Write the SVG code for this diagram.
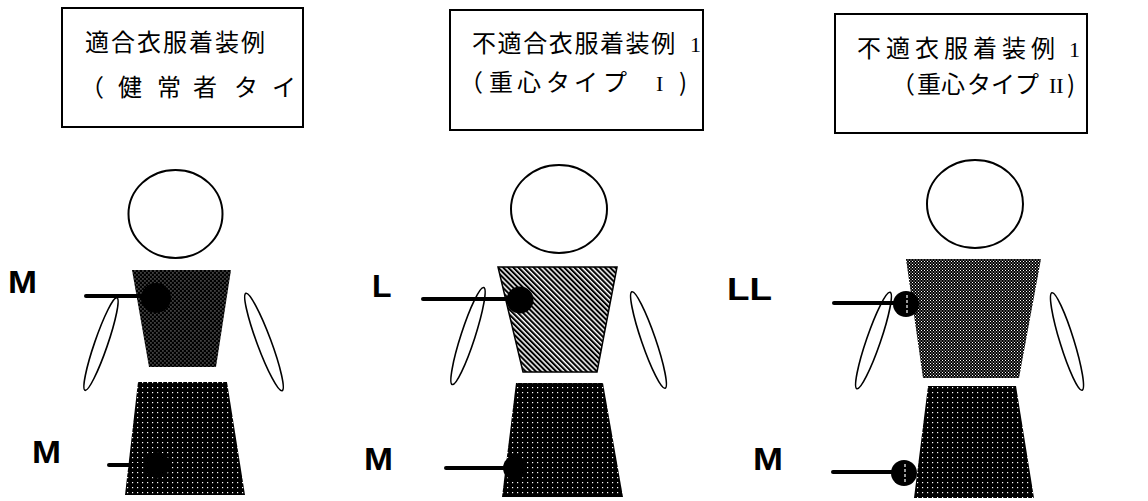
<svg xmlns="http://www.w3.org/2000/svg" width="1148" height="501" viewBox="0 0 1148 501">
  <style>
    .box { fill: #fff; stroke: #000; stroke-width: 2; }
    .jp { font-family: "Noto Sans CJK JP", sans-serif; font-size: 24px; fill: #000; }
    .num { font-family: "Liberation Serif", "Noto Sans CJK JP", serif; font-size: 22px; fill: #000; }
    .size { font-family: "Liberation Sans", Arial, sans-serif; font-size: 32px; font-weight: bold; fill: #000; }
    .head { fill: #fff; stroke: #000; stroke-width: 2; }
    .arm { fill: #fff; stroke: #000; stroke-width: 1.6; }
    .lead { stroke: #000; stroke-width: 4; stroke-linecap: round; fill: none; }
    .mark { fill: #000; }
    .tick { stroke: #fff; stroke-width: 1.2; stroke-dasharray: 3 2; }
  </style>
  <defs>
    <!-- coarse stipple: black with a white dot grid (skirts) -->
    <pattern id="stipple" width="5" height="5" patternUnits="userSpaceOnUse">
      <rect width="5" height="5" fill="#000"/>
      <rect x="2" y="2" width="1.2" height="1.2" fill="#fff"/>
    </pattern>
    <!-- fine stipple: dark, staggered rows -->
    <pattern id="fine" width="4" height="4" patternUnits="userSpaceOnUse">
      <rect width="4" height="4" fill="#000"/>
      <rect x="0.5" y="0.5" width="0.9" height="0.9" fill="#fff"/>
      <rect x="2.5" y="2.5" width="0.9" height="0.9" fill="#fff"/>
    </pattern>
    <!-- diagonal hatch -->
    <pattern id="hatch" width="3.6" height="3.6" patternUnits="userSpaceOnUse" patternTransform="rotate(-45)">
      <rect width="3.6" height="3.6" fill="#fff"/>
      <rect width="2.1" height="3.6" fill="#000"/>
    </pattern>
    <!-- checker screen -->
    <pattern id="checker" width="3" height="3" patternUnits="userSpaceOnUse">
      <rect width="3" height="3" fill="#000"/>
      <rect x="0" y="0" width="1" height="1" fill="#fff"/>
      <rect x="1.5" y="1.5" width="1" height="1" fill="#fff"/>
    </pattern>
  </defs>

  <rect width="1148" height="501" fill="#fff"/>

  <!-- title boxes -->
  <g id="title-fit">
    <rect class="box" x="62" y="8" width="241" height="119"/>
    <text class="jp" x="85" y="51" font-size="25" letter-spacing="2">適合衣服着装例</text>
    <text class="jp" y="96" x="80 118 157 193 234 272">（健常者タイ</text>
  </g>
  <g id="title-misfit-1">
    <rect class="box" x="450" y="10" width="253" height="120"/>
    <text class="jp" x="472" y="52" letter-spacing="1.6">不適合衣服着装例</text>
    <text class="num" x="690" y="52">1</text>
    <text class="jp" y="91"><tspan x="459 489 517 546 574 603">（重心タイプ</tspan><tspan class="num" x="656">I</tspan><tspan x="679">)</tspan></text>
  </g>
  <g id="title-misfit-2">
    <rect class="box" x="835" y="14" width="252" height="119"/>
    <text class="jp" x="857" y="57" letter-spacing="5">不適衣服着装例</text>
    <text class="num" x="1069" y="57">1</text>
    <text class="jp" y="93"><tspan x="891 917 941 967 991 1015">（重心タイプ</tspan><tspan class="num" x="1049">II</tspan><tspan x="1067">)</tspan></text>
  </g>

  <!-- figure 1 -->
  <g id="figure-fit">
    <ellipse class="head" cx="175.5" cy="214" rx="47" ry="44"/>
    <ellipse class="arm" cx="101" cy="344" rx="49" ry="6.5" transform="rotate(109 101 344)"/>
    <ellipse class="arm" cx="264" cy="342" rx="52" ry="7" transform="rotate(69.6 264 342)"/>
    <polygon points="132,270 231,270 216,367 149,367" fill="url(#fine)"/>
    <polygon points="138,382 227,382 245,495 125,495" fill="url(#stipple)"/>
    <circle class="mark" cx="156" cy="298" r="15"/>
    <circle class="mark" cx="157" cy="465" r="13"/>
  </g>

  <!-- figure 2 -->
  <g id="figure-misfit-1">
    <ellipse class="head" cx="559" cy="209" rx="48" ry="44"/>
    <ellipse class="arm" cx="468" cy="336" rx="51" ry="7" transform="rotate(108 468 336)"/>
    <ellipse class="arm" cx="648.5" cy="340" rx="51" ry="7" transform="rotate(71 648.5 340)"/>
    <polygon points="498,267 617,267 597,372 523,372" fill="url(#hatch)" stroke="#000" stroke-width="1.5"/>
    <polygon points="516,383 603,383 623,497 502,497" fill="url(#stipple)"/>
    <circle class="mark" cx="520" cy="300" r="13.5"/>
    <circle class="mark" cx="515" cy="468" r="12"/>
  </g>

  <!-- figure 3 -->
  <g id="figure-misfit-2">
    <ellipse class="head" cx="975" cy="204" rx="48" ry="44"/>
    <ellipse class="arm" cx="873.5" cy="340.5" rx="51" ry="7" transform="rotate(109 873.5 340.5)"/>
    <ellipse class="arm" cx="1067" cy="341.5" rx="51" ry="7" transform="rotate(72.8 1067 341.5)"/>
    <polygon points="906,259 1041,259 1019,378 923,378" fill="url(#checker)"/>
    <polygon points="928,386 1016,386 1034,498 914,498" fill="url(#stipple)"/>
    <circle class="mark" cx="906" cy="304" r="13"/>
    <line class="tick" x1="907" y1="295" x2="907" y2="313"/>
    <circle class="mark" cx="904" cy="473" r="13"/>
    <line class="tick" x1="905" y1="464" x2="905" y2="482"/>
  </g>

  <!-- leader lines from size labels to measuring points -->
  <g id="connectors">
    <line class="lead" x1="86" y1="296" x2="150" y2="296"/>
    <line class="lead" x1="109" y1="465" x2="150" y2="465"/>
    <line class="lead" x1="423" y1="299" x2="512" y2="299"/>
    <line class="lead" x1="446" y1="468" x2="508" y2="468"/>
    <line class="lead" x1="834" y1="303" x2="897" y2="303"/>
    <line class="lead" x1="833" y1="472" x2="895" y2="472"/>
  </g>

  <!-- size labels -->
  <g id="labels">
    <text class="size" x="8" y="293" textLength="29" lengthAdjust="spacingAndGlyphs">M</text>
    <text class="size" x="32" y="463" textLength="29" lengthAdjust="spacingAndGlyphs">M</text>
    <text class="size" x="372" y="297">L</text>
    <text class="size" x="364" y="470" textLength="29" lengthAdjust="spacingAndGlyphs">M</text>
    <text class="size" x="727" y="300" textLength="45" lengthAdjust="spacingAndGlyphs">LL</text>
    <text class="size" x="753" y="470" textLength="30" lengthAdjust="spacingAndGlyphs">M</text>
  </g>
</svg>
